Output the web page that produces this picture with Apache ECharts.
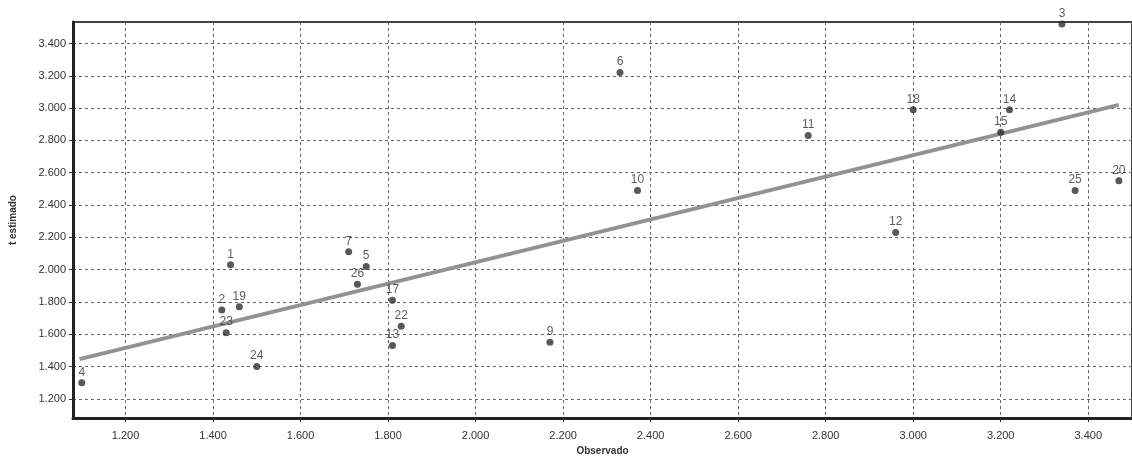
<!DOCTYPE html>
<html>
<head>
<meta charset="utf-8">
<script src="https://cdn.jsdelivr.net/npm/echarts@6/dist/echarts.min.js"></script>
<style>
  html, body { margin: 0; padding: 0; background: #fff; }
  #chart { width: 1132px; height: 461px; }
</style>
</head>
<body>
<div id="chart"></div>
<script>
// puntos observados vs estimados
var pointIds = ['1', '2', '3', '4', '5', '6', '7', '9', '10', '11', '12', '13', '14',
                '15', '17', '18', '19', '20', '22', '23', '24', '25', '26'];
var observado = [1.44, 1.42, 3.34, 1.10, 1.75, 2.33, 1.71, 2.17, 2.37, 2.76, 2.96, 1.81, 3.22,
                 3.20, 1.81, 3.00, 1.46, 3.47, 1.83, 1.43, 1.50, 3.37, 1.73];
var estimado = [2.03, 1.75, 3.52, 1.30, 2.02, 3.22, 2.11, 1.55, 2.49, 2.83, 2.23, 1.53, 2.99,
                2.85, 1.81, 2.99, 1.77, 2.55, 1.65, 1.61, 1.40, 2.49, 1.91];
// recta de ajuste (extremos)
var lineX = [1.095, 3.47];
var lineY = [1.446, 3.02];
var xTicks = [1.2, 1.4, 1.6, 1.8, 2.0, 2.2, 2.4, 2.6, 2.8, 3.0, 3.2, 3.4];
var yTicks = [1.2, 1.4, 1.6, 1.8, 2.0, 2.2, 2.4, 2.6, 2.8, 3.0, 3.2, 3.4];

var points = observado.map(function (x, i) { return [x, estimado[i], pointIds[i]]; });
var fitLine = lineX.map(function (x, i) { return [x, lineY[i]]; });

var fmt = function (v) { return v.toFixed(3); };
var gridLine = { show: true, lineStyle: { color: '#666', type: [3, 3], width: 1 } };

var myChart = echarts.init(document.getElementById('chart'));
myChart.setOption({
    animation: false,
    backgroundColor: '#fff',
    grid: {
        left: 69, right: 0, top: 22, bottom: 40,
        show: true, borderColor: '#444', borderWidth: 2
    },
    xAxis: {
        type: 'value',
        min: 1.08,
        max: 3.5,
        name: 'Observado',
        nameLocation: 'middle',
        nameGap: 27,
        nameTextStyle: { fontFamily: 'Liberation Sans', fontSize: 10, color: '#333', fontWeight: 'bold' },
        axisLine: { show: true, lineStyle: { color: '#222', width: 3 } },
        axisTick: { show: true, customValues: xTicks, length: 4, inside: false, lineStyle: { color: '#333' } },
        axisLabel: { customValues: xTicks, formatter: fmt, margin: 12,
                     fontFamily: 'Liberation Sans', fontSize: 11, color: '#333' },
        splitLine: gridLine
    },
    yAxis: {
        type: 'value',
        min: 1.081,
        max: 3.533,
        name: 't estimado',
        nameLocation: 'middle',
        nameGap: 55,
        nameTextStyle: { fontFamily: 'Liberation Sans', fontSize: 10, color: '#333', fontWeight: 'bold' },
        axisLine: { show: true, lineStyle: { color: '#222', width: 3 } },
        axisTick: { show: true, customValues: yTicks, length: 4, lineStyle: { color: '#333' } },
        axisLabel: { customValues: yTicks, formatter: fmt, margin: 7,
                     fontFamily: 'Liberation Sans', fontSize: 11, color: '#333' },
        splitLine: gridLine
    },
    series: [
        {
            type: 'line',
            data: fitLine,
            symbol: 'none',
            lineStyle: { color: '#929292', width: 4 },
            z: 2
        },
        {
            type: 'scatter',
            data: points,
            symbolSize: 7,
            itemStyle: { color: '#2e2e2e' },
            label: {
                show: true,
                position: 'top',
                distance: 1,
                formatter: function (p) { return p.value[2]; },
                fontFamily: 'Liberation Sans',
                fontSize: 12,
                color: '#333'
            },
            z: 3
        }
    ]
});
</script>
</body>
</html>
